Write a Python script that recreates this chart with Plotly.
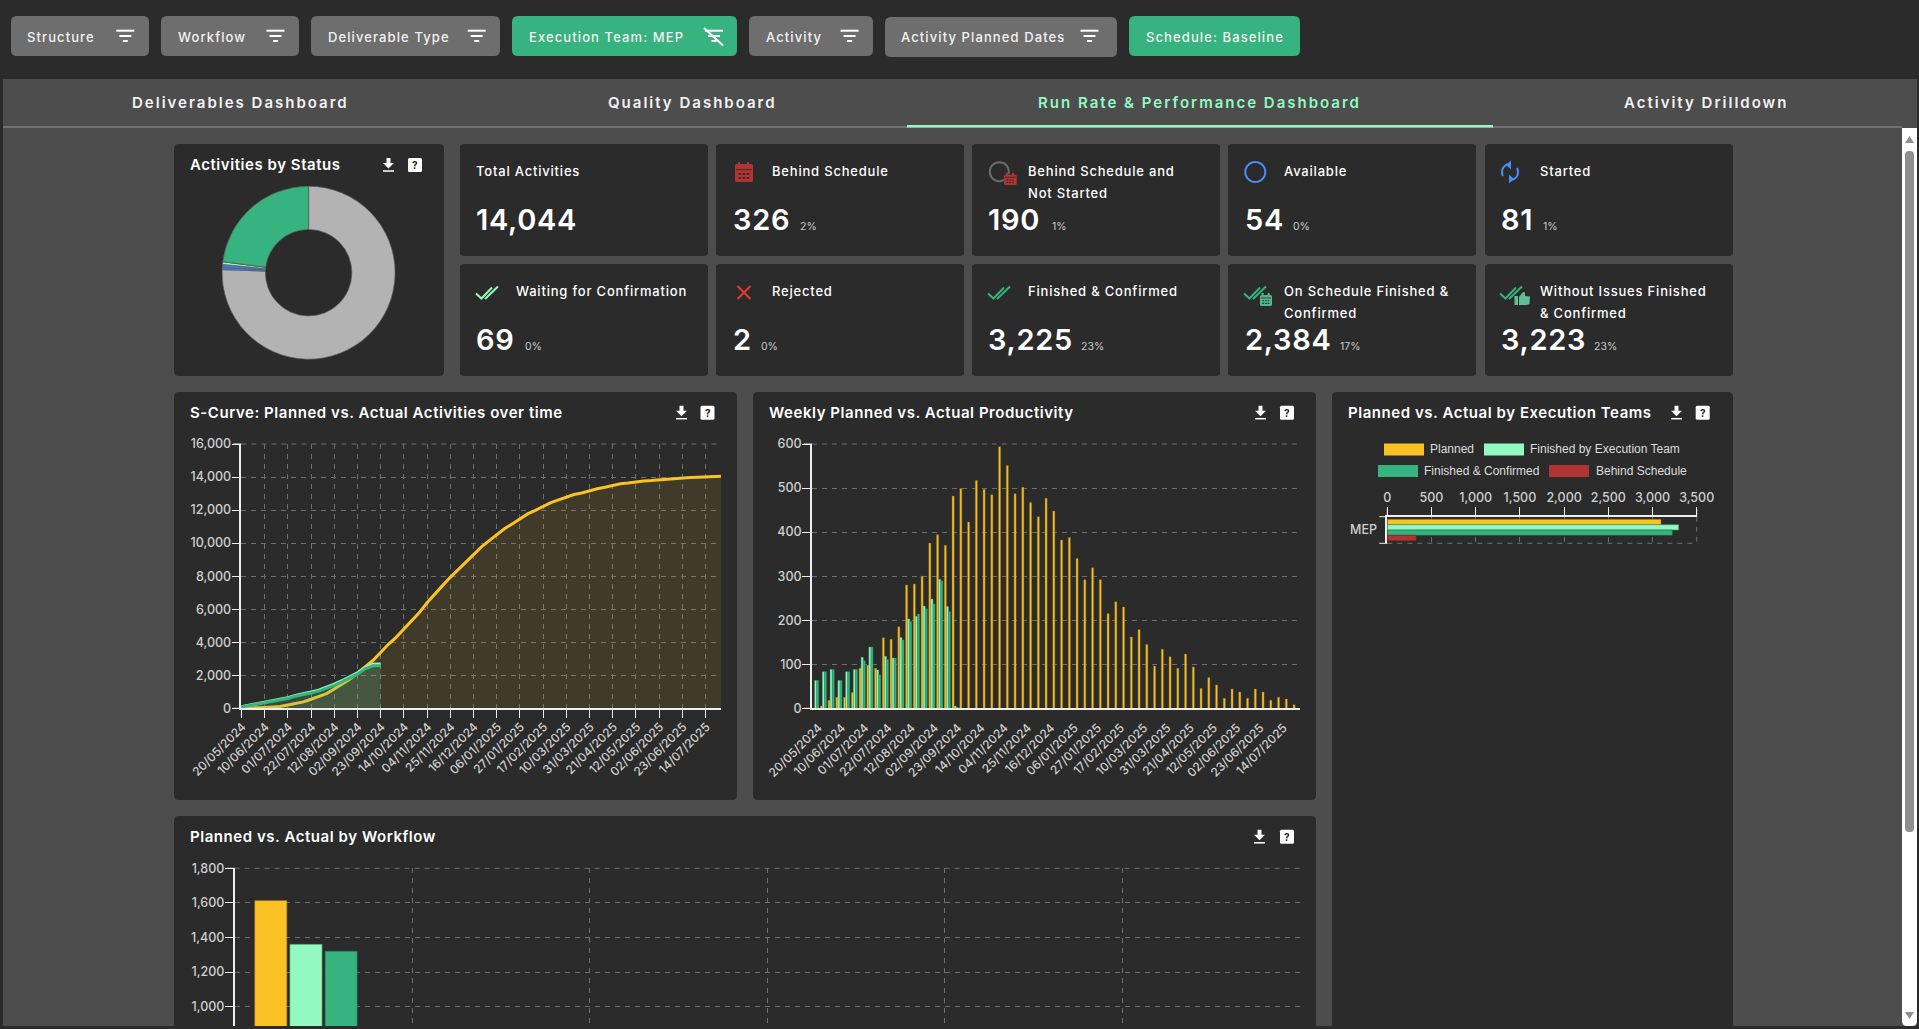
import math, json
import plotly.graph_objects as go

W, H = 1919, 1029

# ---------- data ----------
WEEK_DATES = [
    "20/05/2024","27/05/2024","03/06/2024","10/06/2024","17/06/2024","24/06/2024","01/07/2024","08/07/2024",
    "15/07/2024","22/07/2024","29/07/2024","05/08/2024","12/08/2024","19/08/2024","26/08/2024","02/09/2024",
    "09/09/2024","16/09/2024","23/09/2024","30/09/2024","07/10/2024","14/10/2024","21/10/2024","28/10/2024",
    "04/11/2024","11/11/2024","18/11/2024","25/11/2024","02/12/2024","09/12/2024","16/12/2024","23/12/2024",
    "30/12/2024","06/01/2025","13/01/2025","20/01/2025","27/01/2025","03/02/2025","10/02/2025","17/02/2025",
    "24/02/2025","03/03/2025","10/03/2025","17/03/2025","24/03/2025","31/03/2025","07/04/2025","14/04/2025",
    "21/04/2025","28/04/2025","05/05/2025","12/05/2025","19/05/2025","26/05/2025","02/06/2025","09/06/2025",
    "16/06/2025","23/06/2025","30/06/2025","07/07/2025","14/07/2025","21/07/2025","28/07/2025",
]
TICK_LABELS = [
    "20/05/2024","10/06/2024","01/07/2024","22/07/2024","12/08/2024","02/09/2024","23/09/2024",
    "14/10/2024","04/11/2024","25/11/2024","16/12/2024","06/01/2025","27/01/2025","17/02/2025",
    "10/03/2025","31/03/2025","21/04/2025","12/05/2025","02/06/2025","23/06/2025","14/07/2025",
]
PLAN_CUM = [0,5,23,48,73,109,200,298,389,549,706,891,1171,1453,1753,2128,2522,2892,3374,3873,4296,4813,5310,
            5795,6389,6940,7427,7929,8396,8831,9308,9756,10138,10526,10866,11158,11477,11769,11984,12226,12456,
            12618,12797,12942,13038,13172,13289,13380,13503,13597,13642,13712,13765,13788,13832,13869,13892,
            13936,13973,13991,14016,14037,14044]
TEAM_CUM = [100,190,280,345,430,520,640,780,870,990,1100,1260,1460,1670,1900,2150,2440,2665,2680]
CONF_CUM = [80,165,250,315,395,485,595,735,815,925,1040,1195,1390,1600,1830,2065,2390,2570,2580]

PLAN_WEEK = [0,5,18,25,25,36,91,98,91,160,157,185,280,282,300,375,394,370,482,499,423,517,497,485,594,551,487,
             502,467,435,477,448,382,388,340,292,319,292,215,242,230,162,179,145,96,134,117,91,123,94,45,70,53,
             23,44,37,23,44,37,18,25,21,8]
TEAM_WEEK = [63,83,88,63,83,88,116,139,87,118,114,161,203,209,232,248,293,231,5]
CONF_WEEK = [63,83,88,63,83,88,108,139,76,111,114,155,197,214,226,237,289,219,3]

TEAM_NAMES = ["MEP"]
TEAM_PLANNED = [3096]
TEAM_FINISHED = [3296]
TEAM_CONFIRMED = [3225]
TEAM_BEHIND = [326]

WORKFLOW_SLOTS = [0]
WF_PLANNED = [1613]
WF_FINISHED = [1360]
WF_CONFIRMED = [1320]
WF_BEHIND = [40]

STATUS_NAMES = ["Not Started","Available","Started","Waiting for Confirmation","Rejected","Finished & Confirmed"]
STATUS_VALUES = [10613,54,81,69,2,3225]

# ---------- style ----------
DARK = "#2b2b2b"; PAGE = "#4d4d4d"; BTN = "#6e6e6e"
YEL = "#fac224"; MINT = "#92fac1"; GRN = "#36b37e"; RED = "#b03434"; BLUE = "#4c8cf5"
GRID = "#6e6e6e"; AXIS = "#eeeeee"; TICK = "#cfcfcf"
FONT = "Inter"
STATUS_COLORS = ["#b3b3b3", BLUE, "#3f7fe0", MINT, "#e53935", GRN]

def X(v): return v / W
def Y(v): return 1 - v / H
def P(x, y): return f"{X(x):.6f} {Y(y):.6f}"

shapes, annos = [], []
SPACED = {}

def path(d, fill=None, line=None, lw=0, layer="below", dash=None):
    ln = dict(width=lw, color=line or "rgba(0,0,0,0)")
    if dash: ln["dash"] = dash
    s = dict(type="path", xref="paper", yref="paper", path=d, layer=layer, line=ln)
    if fill: s["fillcolor"] = fill
    shapes.append(s)

def rrect(x0, y0, x1, y1, fill, r=5, rb=None):
    rb = r if rb is None else rb
    d = (f"M {P(x0+r,y0)} L {P(x1-r,y0)} Q {P(x1,y0)} {P(x1,y0+r)} L {P(x1,y1-rb)} Q {P(x1,y1)} {P(x1-rb,y1)} "
         f"L {P(x0+rb,y1)} Q {P(x0,y1)} {P(x0,y1-rb)} L {P(x0,y0+r)} Q {P(x0,y0)} {P(x0+r,y0)} Z")
    path(d, fill=fill)

def poly(pts, color, lw=2, fill=None, close=False, dash=None):
    d = "M " + " L ".join(P(a, b) for a, b in pts) + (" Z" if close else "")
    path(d, fill=fill, line=color if lw else None, lw=lw, dash=dash)

def arc(cx, cy, r, a0, a1, n=24):
    return [(cx + r*math.cos(math.radians(a0+(a1-a0)*i/n)), cy + r*math.sin(math.radians(a0+(a1-a0)*i/n))) for i in range(n+1)]

def T(x, y, text, size=13, color="#ffffff", anchor="left", weight=500, family=FONT, spacing=None):
    annos.append(dict(xref="paper", yref="paper", x=X(x-1 if anchor == "left" else x), y=Y(y), text=text.replace("&","&amp;"),
                      showarrow=False, xanchor=anchor, align=anchor, yanchor="middle", borderpad=0,
                      font=dict(family=family, size=size, color=color, weight=weight)))
    if spacing is not None:
        SPACED[text] = spacing

# page frame
rrect(3, 79, 1917, 1026, PAGE, r=0)
poly([(3, 127), (1902, 127)], "#7c7c7c", 1.5)
rrect(907, 125, 1493, 127.5, MINT, r=0)
# scrollbar
rrect(1902, 128, 1917, 1026, "#ffffff", r=0, rb=5)
rrect(1905, 151, 1914, 832, "#8f8f8f", r=4, rb=4)
poly([(1909.5, 136), (1914, 143), (1905, 143)], None, 0, fill="#8f8f8f", close=True)
poly([(1905, 1012), (1914, 1012), (1909.5, 1019)], None, 0, fill="#8f8f8f", close=True)

# filter buttons
def filt(cx, color="#ffffff"):
    for yy, w in ((30.7, 9), (36, 6), (41, 2.5)):
        poly([(cx-w, yy), (cx+w, yy)], color, 2)

BUTTONS = [("Structure",11,149,27,125.3,BTN),("Workflow",161,299,177.6,275.5,BTN),("Deliverable Type",311,500,327.6,476.7,BTN),
           ("Execution Team: MEP",512,737,529,714,GRN),("Activity",749,873,765.5,849.6,BTN),
           ("Activity Planned Dates",885,1117,901.4,1089.5,BTN),("Schedule: Baseline",1129,1300,1145.5,None,GRN)]
for name, x0, x1, tx, ic, col in BUTTONS:
    off = 1 if name.startswith("Activity Planned") else 0
    rrect(x0, 16+off, x1, 56+off, col, r=6)
    T(tx, 36.7, name, 13, "#f2f2f2", spacing=1.1)
    if ic:
        filt(ic)
poly([(704, 28), (723, 45.5)], "#ffffff", 2)

# tabs
for name, cx, col in (("Deliverables Dashboard",240,"#f2f2f2"),("Quality Dashboard",692,"#f2f2f2"),
                      ("Run Rate & Performance Dashboard",1199.5,MINT),("Activity Drilldown",1705.5,"#f2f2f2")):
    T(cx, 102.3, name, 15, col, anchor="center", weight=600, spacing=2.0)

# cards
for c in [(174,144,444,376),(753,392,1316,800),(174,392,737,800),(1332,392,1733,1026),(174,816,1316,1026)]:
    rrect(*c, DARK, r=5, rb=5 if c[3] < 1000 else 0)

def card_head(title, tx, ty, dlx, hx):
    T(tx, ty, title, 15, "#ffffff", weight=600, spacing=0.55)
    top = ty - 7
    c = dlx + 5.5
    poly([(c-2,top),(c+2,top),(c+2,top+5),(c+5.5,top+5),(c,top+10.5),(c-5.5,top+5),(c-2,top+5)], None, 0, fill="#ffffff", close=True)
    poly([(c-5.5,top+13),(c+5.5,top+13)], "#ffffff", 1.5)
    rrect(hx, top, hx+14, top+14, "#ffffff", r=1.5)
    T(hx+7, top+7, "?", 10, "#222222", anchor="center", weight=700)

card_head("Activities by Status", 189.8, 165, 383, 408)
card_head("S-Curve: Planned vs. Actual Activities over time", 189.6, 412.7, 676, 700.5)
card_head("Weekly Planned vs. Actual Productivity", 769, 412.7, 1255, 1280)
card_head("Planned vs. Actual by Execution Teams", 1347.7, 412.7, 1671, 1695.7)
card_head("Planned vs. Actual by Workflow", 189.8, 836.8, 1254, 1280)

KPI = [
    (460,0,["Total Activities"],476,"14,044",476,"",0),
    (716,0,["Behind Schedule"],772,"326",733,"2%",800),
    (972,0,["Behind Schedule and","Not Started"],1028,"190",987.5,"1%",1052),
    (1228,0,["Available"],1284,"54",1245,"0%",1292.5),
    (1485,0,["Started"],1540,"81",1501,"1%",1543),
    (460,1,["Waiting for Confirmation"],515.6,"69",476,"0%",525.4),
    (716,1,["Rejected"],772,"2",733,"0%",761),
    (972,1,["Finished & Confirmed"],1028,"3,225",987.5,"23%",1081),
    (1228,1,["On Schedule Finished &","Confirmed"],1284,"2,384",1245,"17%",1340),
    (1485,1,["Without Issues Finished","& Confirmed"],1540,"3,223",1501,"23%",1594),
]
for cx, row, lines, tx, val, vx, pct, pxx in KPI:
    top = 144 + row*120
    rrect(cx, top, cx+248, top+112, DARK, r=4)
    for i, l in enumerate(lines):
        T(tx, top+26.9+i*22, l, 13, "#ffffff", weight=500, spacing=0.8)
    T(vx, top+75.5, val, 29, "#ffffff", weight=600, spacing=0.7)
    if pct:
        T(pxx, top+82.5, pct, 10.5, "#c8c8c8", weight=400)

# icons
def calendar(x0, y0, x1, y1, col, dots=DARK):
    rrect(x0, y0+2, x1, y1, col, r=1.5)
    w = x1-x0; h = y1-y0
    for f in (0.22, 0.72):
        poly([(x0+w*f, y0), (x0+w*f, y0+3)], col, 2)
    poly([(x0+1, y0+h*0.38), (x1-1, y0+h*0.38)], dots, 0.8)
    for ry in (0.55, 0.75):
        for rx in (0.2, 0.42, 0.64):
            rrect(x0+w*rx, y0+h*ry, x0+w*(rx+0.14), y0+h*(ry+0.09), dots, r=0)

def checks(x, y, col):
    poly([(x,y+7),(x+5.5,y+12),(x+16,y+1)], col, 2)
    poly([(x+9,y+12.5),(x+22,y)], col, 2)

calendar(735, 162, 753, 182, RED)
poly(arc(999.3, 171.7, 9.5, 60, 375), "#6b6b6b", 2)
calendar(1004, 172.7, 1016.7, 185, RED)
poly(arc(1255.3, 172, 10, 0, 360, 40), BLUE, 2)
poly(arc(1510, 172, 8, 150, 265), BLUE, 2)
poly(arc(1510, 172, 8, -30, 85), BLUE, 2)
poly([(1511, 160.5), (1506, 165), (1511, 169.5)], None, 0, fill=BLUE, close=True)
poly([(1509, 174.5), (1514, 179), (1509, 183.5)], None, 0, fill=BLUE, close=True)
checks(476, 286.5, MINT)
poly([(737.5, 286), (750.5, 299)], "#e53935", 2)
poly([(750.5, 286), (737.5, 299)], "#e53935", 2)
checks(988, 286.5, GRN)
checks(1244, 286.5, GRN)
calendar(1260, 293, 1272, 306, "#4fb98c")
checks(1500, 286.5, GRN)
rrect(1514.5, 296, 1518, 305, "#5fc096", r=0.5)
poly([(1519,297),(1523,292),(1525,292.5),(1525,296),(1530,296.5),(1529.5,304),(1527,305),(1519,305)], None, 0, fill="#5fc096", close=True)

# teams legend
for sx, tx, yy, name, col in ((1384,1430,449.5,"Planned",YEL),(1484,1530,449.5,"Finished by Execution Team",MINT),
                              (1378,1424,471,"Finished & Confirmed",GRN),(1549,1596,471,"Behind Schedule",RED)):
    rrect(sx, yy-6, sx+40, yy+6, col, r=0)
    T(tx, yy-0.5, name, 12, "#dddddd", weight=400, family="Liberation Sans")

# axis end ticks and grid lines that fall exactly on a range limit
GD = "5px,5px"
for x0, x1 in ((241.4, 721), (811.8, 1300), (234.6, 1300)):
    yy = 868.3 if x0 == 234.6 else 444
    poly([(x0, yy), (x1, yy)], GRID, 1, dash=GD)
    poly([(x0-8, yy), (x0, yy)], AXIS, 1)
poly([(233.4, 708.3), (241.4, 708.3)], AXIS, 1)
poly([(803.8, 708.3), (811.8, 708.3)], AXIS, 1)
poly([(241.4, 708.3), (241.4, 716.3)], AXIS, 1)
poly([(1387.3, 508.7), (1387.3, 516.7)], AXIS, 1)
poly([(1696.7, 508.7), (1696.7, 516.7)], AXIS, 1)
poly([(1696.7, 516.7), (1696.7, 543.3)], GRID, 1, dash=GD)
poly([(1387.3, 543.3), (1696.7, 543.3)], GRID, 1, dash=GD)
poly([(1379.3, 516.7), (1387.3, 516.7)], AXIS, 1)
poly([(1379.3, 543.3), (1387.3, 543.3)], AXIS, 1)

# ---------- figure ----------
fig = go.Figure()

fig.add_trace(go.Pie(labels=STATUS_NAMES, values=STATUS_VALUES, hole=0.5, sort=False, direction="clockwise", rotation=0,
                     textinfo="none", showlegend=False, marker=dict(colors=STATUS_COLORS, line=dict(color="#5a5a5a", width=0.7)),
                     domain=dict(x=[X(308.6-86.5), X(308.6+86.5)], y=[Y(272.7+86.5), Y(272.7-86.5)])))

fig.add_trace(go.Scatter(x=WEEK_DATES, y=PLAN_CUM, name="Planned", mode="lines", line=dict(color=YEL, width=3),
                         fill="tozeroy", fillcolor="rgba(250,194,36,0.10)", xaxis="x", yaxis="y"))
fig.add_trace(go.Scatter(x=WEEK_DATES[:len(TEAM_CUM)], y=TEAM_CUM, name="Finished by Execution Team", mode="lines",
                         line=dict(color=MINT, width=3), fill="tozeroy", fillcolor="rgba(146,250,193,0.10)", xaxis="x", yaxis="y"))
fig.add_trace(go.Scatter(x=WEEK_DATES[:len(CONF_CUM)], y=CONF_CUM, name="Finished & Confirmed", mode="lines",
                         line=dict(color=GRN, width=3), fill="tozeroy", fillcolor="rgba(54,179,126,0.10)", xaxis="x", yaxis="y"))

def barline(c, w=0.6): return dict(color=c, width=w)
fig.add_trace(go.Bar(x=WEEK_DATES, y=PLAN_WEEK, name="Planned", marker=dict(color=YEL, line=barline("#8a6d1c", 0.4)), xaxis="x2", yaxis="y2"))
fig.add_trace(go.Bar(x=WEEK_DATES[:len(TEAM_WEEK)], y=TEAM_WEEK, name="Finished by Execution Team", marker=dict(color=MINT, line=barline("#5fa583", 0.4)), xaxis="x2", yaxis="y2"))
fig.add_trace(go.Bar(x=WEEK_DATES[:len(CONF_WEEK)], y=CONF_WEEK, name="Finished & Confirmed", marker=dict(color=GRN, line=barline("#2a8a61", 0.4)), xaxis="x2", yaxis="y2"))

for name, vals, col, edge in (("Planned",TEAM_PLANNED,YEL,"#8a6d1c"),("Finished by Execution Team",TEAM_FINISHED,MINT,"#4f8f6e"),
                              ("Finished & Confirmed",TEAM_CONFIRMED,GRN,"#1f6b4b"),("Behind Schedule",TEAM_BEHIND,RED,"#7a2424")):
    fig.add_trace(go.Bar(y=TEAM_NAMES, x=vals, name=name, orientation="h", marker=dict(color=col, line=barline(edge)), xaxis="x3", yaxis="y3"))

for name, vals, col, edge, off in (("Planned",WF_PLANNED,YEL,"#b98f1c",-0.386),("Finished by Execution Team",WF_FINISHED,MINT,"#6fbf95",-0.188),
                                   ("Finished & Confirmed",WF_CONFIRMED,GRN,"#25805a",0.01),("Behind Schedule",WF_BEHIND,RED,"#7a2424",0.208)):
    fig.add_trace(go.Bar(x=WORKFLOW_SLOTS, y=vals, name=name, width=0.18, offset=off, marker=dict(color=col, line=barline(edge)), xaxis="x4", yaxis="y4"))

tickfont = dict(family=FONT, size=12.5, color=TICK, weight=500)
datefont = dict(family=FONT, size=12, color=TICK, weight=500)
common = dict(showline=True, linecolor=AXIS, linewidth=1.5, ticks="outside", ticklen=8, tickcolor=AXIS, tickwidth=1, automargin=False,
              tickfont=tickfont, zeroline=False, showgrid=True, gridcolor=GRID, griddash=GD, gridwidth=1)

def xdom(a, b): return [X(a), X(b)]
def ydom(top, bottom): return [Y(bottom), Y(top)]

edge_ticks = [i + 1.5 for i in range(0, 61, 3)]

layout = dict(
    width=W, height=H, autosize=False, margin=dict(l=0, r=0, t=0, b=0, pad=0),
    paper_bgcolor=DARK, plot_bgcolor="rgba(0,0,0,0)", showlegend=False, barmode="group", bargap=0.2, bargroupgap=0,
    hovermode=False, shapes=shapes, annotations=annos,
    xaxis=dict(common, domain=xdom(241.4, 721), type="category", categoryorder="array", categoryarray=WEEK_DATES, tickfont=datefont,
               range=[0, 62], tickmode="array", tickvals=TICK_LABELS, ticktext=TICK_LABELS, tickangle=-45, anchor="y", ticklabelshift=1, ticklabelstandoff=-3),
    yaxis=dict(common, domain=ydom(444, 708.3), range=[0, 16000], dtick=2000, tickformat=",", anchor="x", ticklabelstandoff=-2),
    xaxis2=dict(common, domain=xdom(811.8, 1300), type="category", categoryorder="array", categoryarray=WEEK_DATES, tickfont=datefont,
                range=[-0.5, 62.5], tickmode="array", tickvals=TICK_LABELS, ticktext=TICK_LABELS, tickangle=-45,
                tickcolor="rgba(0,0,0,0)", showgrid=False, anchor="y2", ticklabelshift=3, ticklabelstandoff=-2),
    yaxis2=dict(common, domain=ydom(444, 708.3), range=[0, 600], dtick=100, anchor="x2", ticklabelstandoff=-2),
    xaxis5=dict(common, domain=xdom(811.8, 1300), type="linear", range=[-0.5, 62.5], tickmode="array", tickvals=edge_ticks,
                showticklabels=False, overlaying="x2", anchor="y2", showline=False),
    xaxis3=dict(common, domain=xdom(1387.3, 1696.7), range=[0, 3500], dtick=500, tickformat=",", side="top", anchor="y3"),
    yaxis3=dict(common, domain=ydom(516.7, 543.3), type="category", range=[0.5, -0.5], tickcolor="rgba(0,0,0,0)", showgrid=False, anchor="x3", ticklabelstandoff=-2),
    xaxis4=dict(common, domain=xdom(234.6, 1300), type="linear", range=[-0.5, 5.5], tickmode="array", tickvals=[0.5, 1.5, 2.5, 3.5, 4.5],
                showticklabels=False, ticks="", showline=False, anchor="y4"),
    yaxis4=dict(common, domain=ydom(868.3, 1026), range=[888, 1800], dtick=200, tick0=1000, tickformat=",", anchor="x4", ticklabelstandoff=-2),
)
fig.update_layout(**layout)

post = """
document.body.style.margin='0';document.body.style.overflow='hidden';
var sp=%s;
document.querySelectorAll('.annotation-text').forEach(function(t){var k=t.textContent;
if(sp[k]!==undefined && t.style.fontFamily.indexOf('Liberation')<0){t.style.letterSpacing=sp[k]+'px';}});
""" % json.dumps(SPACED)
fig.write_html("out.html", config=dict(displayModeBar=False, responsive=False), post_script=post)
